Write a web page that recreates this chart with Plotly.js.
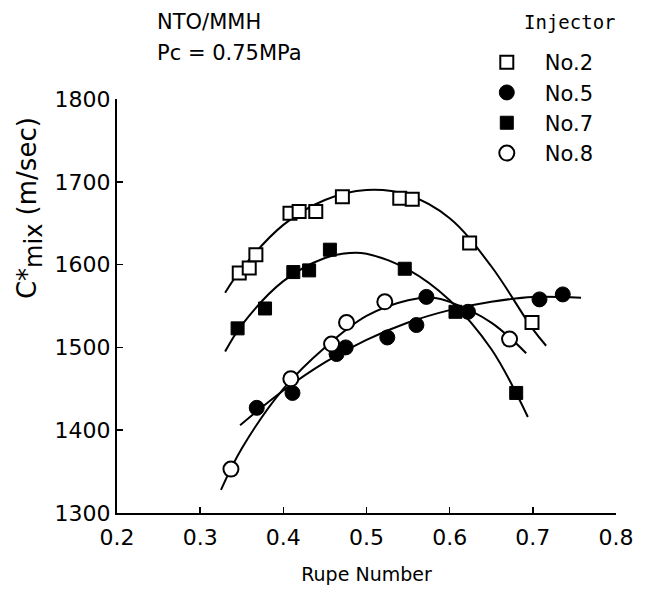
<!DOCTYPE html>
<html>
<head>
<meta charset="utf-8">
<script src="https://cdn.plot.ly/plotly-3.0.1.min.js"></script>
<style>html,body{margin:0;padding:0;background:#fff;}#chart{width:645px;height:592px;}</style>
</head>
<body>
<div id="chart"></div>
<script>
// Measured points
const no2X = [0.347,0.359,0.367,0.408,0.419,0.439,0.471,0.540,0.555,0.624,0.699];
const no2Y = [1590,1596,1612,1662,1664,1664,1682,1680,1679,1626,1530];
const no5X = [0.368,0.411,0.464,0.475,0.525,0.560,0.572,0.622,0.708,0.736];
const no5Y = [1427,1445,1492,1500,1512,1527,1561,1543,1558,1564];
const no7X = [0.345,0.378,0.412,0.431,0.456,0.546,0.607,0.680];
const no7Y = [1523,1547,1591,1593,1618,1595,1543,1445];
const no8X = [0.337,0.409,0.458,0.476,0.522,0.672];
const no8Y = [1353,1462,1504,1530,1555,1510];

// Fitted curves
const fit2X = [0.330,0.35,0.40,0.45,0.50,0.55,0.60,0.65,0.70,0.716];
const fit2Y = [1566,1595,1648,1678,1690,1684,1656,1598,1522,1502];
const fit5X = [0.348,0.40,0.45,0.50,0.55,0.60,0.65,0.70,0.758];
const fit5Y = [1406,1448,1482,1509,1530,1545,1555,1561,1560];
const fit7X = [0.330,0.35,0.40,0.45,0.48,0.50,0.55,0.60,0.65,0.694];
const fit7Y = [1495,1527,1580,1608,1614,1613,1594,1557,1498,1416];
const fit8X = [0.325,0.35,0.40,0.45,0.50,0.55,0.58,0.60,0.65,0.692];
const fit8Y = [1328,1378,1450,1500,1538,1557,1560,1555,1530,1493];

const seriesNames = ["No.2","No.5","No.7","No.8"];
const xTicks = [0.2,0.3,0.4,0.5,0.6,0.7,0.8];
const xTickText = ["0.2","0.3","0.4","0.5","0.6","0.7","0.8"];
const yTicks = [1300,1400,1500,1600,1700,1800];

const FONT = "DejaVu Sans, Liberation Sans, sans-serif";
const lineStyle = {color:"#000", width:2, shape:"spline", smoothing:1};
function fit(x,y){return {x:x,y:y,mode:"lines",line:lineStyle,showlegend:false,hoverinfo:"skip"};}

const traces = [
  fit(fit2X,fit2Y), fit(fit5X,fit5Y), fit(fit7X,fit7Y), fit(fit8X,fit8Y),
  {x:no2X,y:no2Y,mode:"markers",name:seriesNames[0],marker:{symbol:"square",size:13,color:"#fff",line:{color:"#000",width:2}}},
  {x:no5X,y:no5Y,mode:"markers",name:seriesNames[1],marker:{symbol:"circle",size:15,color:"#000",line:{color:"#000",width:1}}},
  {x:no7X,y:no7Y,mode:"markers",name:seriesNames[2],marker:{symbol:"square",size:13,color:"#000",line:{color:"#000",width:1}}},
  {x:no8X,y:no8Y,mode:"markers",name:seriesNames[3],marker:{symbol:"circle",size:15,color:"#fff",line:{color:"#000",width:2}}}
];

const layout = {
  width:645, height:592,
  margin:{l:117,r:29,t:99,b:79},
  paper_bgcolor:"#fff", plot_bgcolor:"#fff",
  font:{family:FONT,color:"#000"},
  xaxis:{range:[0.2,0.8],tickvals:xTicks,ticktext:xTickText,ticks:"inside",ticklen:6,tickwidth:1.5,tickcolor:"#000",
    showline:true,linecolor:"#000",linewidth:2,showgrid:false,zeroline:false,ticklabelstandoff:4,
    tickfont:{size:22,family:FONT},title:{text:"Rupe Number",font:{size:19,family:FONT},standoff:18}},
  yaxis:{range:[1300,1800],tickvals:yTicks,ticks:"inside",ticklen:6,tickwidth:1.5,tickcolor:"#000",
    showline:true,linecolor:"#000",linewidth:2,showgrid:false,zeroline:false,
    tickfont:{size:22,family:FONT}},
  showlegend:true,
  legend:{x:0.705,xanchor:"left",y:1.1377,yanchor:"top",bgcolor:"rgba(0,0,0,0)",font:{size:21,family:FONT},itemwidth:66},
  annotations:[
    {xref:"paper",yref:"paper",x:0.076,y:1.186,xanchor:"left",yanchor:"middle",showarrow:false,text:"NTO/MMH",font:{size:21,family:FONT}},
    {xref:"paper",yref:"paper",x:0.076,y:1.111,xanchor:"left",yanchor:"middle",showarrow:false,text:"Pc = 0.75MPa",font:{size:21,family:FONT}},
    {xref:"paper",yref:"paper",x:0.812,y:1.186,xanchor:"left",yanchor:"middle",showarrow:false,text:"Injector",font:{size:19,family:"DejaVu Sans Mono, monospace"}},
    {xref:"paper",yref:"paper",x:-0.174,y:0.737,xanchor:"center",yanchor:"middle",showarrow:false,textangle:-90,
      text:"C*<sub><span style=\"font-size:24px\">mix</span></sub> (m/sec)",font:{size:26,family:FONT}}
  ]
};

Plotly.newPlot("chart",traces,layout,{displayModeBar:false,staticPlot:true});
</script>
</body>
</html>
